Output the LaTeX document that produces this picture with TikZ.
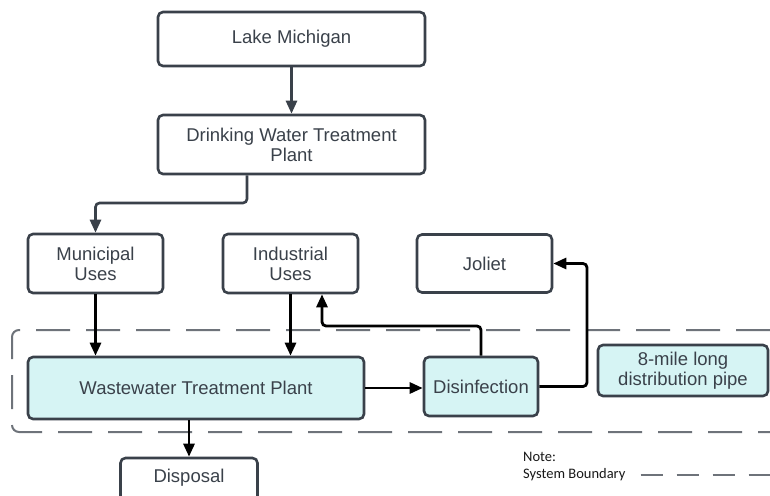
\documentclass[tikz,border=0pt]{standalone}
\usepackage{fontspec}
\setmainfont{Liberation Sans}
\newfontfamily\notefont{Carlito}
\usetikzlibrary{arrows.meta}
\definecolor{boxline}{HTML}{3A414A}
\definecolor{boxfill}{HTML}{D6F4F4}
\definecolor{dashc}{HTML}{6E737A}
\begin{document}
\begin{tikzpicture}[x=1pt,y=-1pt,
  box/.style={draw=boxline, fill=white, line width=2.6pt, rounded corners=5pt, inner sep=0pt,
    text=boxline, align=center, font=\fontsize{18.5}{20}\selectfont},
  cyanbox/.style={box, fill=boxfill},
  grayarrow/.style={draw=boxline, line width=2.6pt, rounded corners=4pt,
    -{Triangle[length=13pt,width=11pt]}},
  blackarrow/.style={draw=black, line width=2.8pt, rounded corners=4pt,
    -{Triangle[length=13pt,width=11pt]}},
  boundary/.style={draw=dashc, line width=2pt, dash pattern=on 34pt off 16pt},
  notetext/.style={anchor=west, inner sep=0pt, text=black!90, font=\notefont\fontsize{14.5}{16}\selectfont}]
\useasboundingbox (0,0) rectangle (770,495);
\clip (0,0) rectangle (770,495);
\fill[white] (0,0) rectangle (770,495);

% system boundary
\draw[boundary, rounded corners=7pt] (770,330) -- (12,330) -- (12,432) -- (770,432);

% boxes
\node[box, minimum width=267pt, minimum height=54pt] (lake) at (291.5,39) {Lake Michigan};
\node[box, minimum width=267pt, minimum height=59pt] (dwtp) at (291.5,144.5) {Drinking Water Treatment\\Plant};
\node[box, minimum width=135pt, minimum height=59pt] (muni) at (95.5,263.5) {Municipal\\Uses};
\node[box, minimum width=135pt, minimum height=59pt] (ind) at (290.5,263.5) {Industrial\\Uses};
\node[box, minimum width=135pt, minimum height=58pt] (joliet) at (484.5,263.5) {Joliet};
\node[cyanbox, minimum width=336pt, minimum height=62pt] (wwtp) at (196,388) {Wastewater Treatment Plant};
\node[cyanbox, minimum width=114pt, minimum height=59pt] (dis) at (481,386.5) {Disinfection};
\node[cyanbox, minimum width=170pt, minimum height=51pt] (pipe) at (683,370.5) {8-mile long\\distribution pipe};
\node[box, minimum width=137pt, minimum height=60pt, text height=13pt, text depth=25pt] (disposal) at (189,488) {Disposal};

% connectors
\coordinate (c1) at (247,203);
\coordinate (c2) at (322,326);
\coordinate (c3) at (587,263.5);
\draw[grayarrow] (lake.south) -- (dwtp.north);
\draw[grayarrow] (dwtp.south -| c1) -- (c1) -| (muni.north);
\draw[blackarrow] (muni.south) -- (muni.south |- wwtp.north);
\draw[blackarrow] (ind.south) -- (ind.south |- wwtp.north);
\draw[blackarrow] (wwtp.east) -- (dis.west |- wwtp.east);
\draw[blackarrow] (dis.north) |- (c2) -- (c2 |- ind.south);
\draw[blackarrow] (dis.east) -| (c3) -- (joliet.east);
\draw[blackarrow] (wwtp.south -| disposal.north) -- (disposal.north);

% legend
\node[notetext] (note) at (523,457) {Note:};
\node[notetext] (sysb) at (523,475) {System Boundary};
\coordinate (legendend) at (770,475);
\draw[draw=dashc, line width=1.6pt, dash pattern=on 22pt off 14pt] ([xshift=15pt]sysb.east) -- (legendend);
\end{tikzpicture}
\end{document}
